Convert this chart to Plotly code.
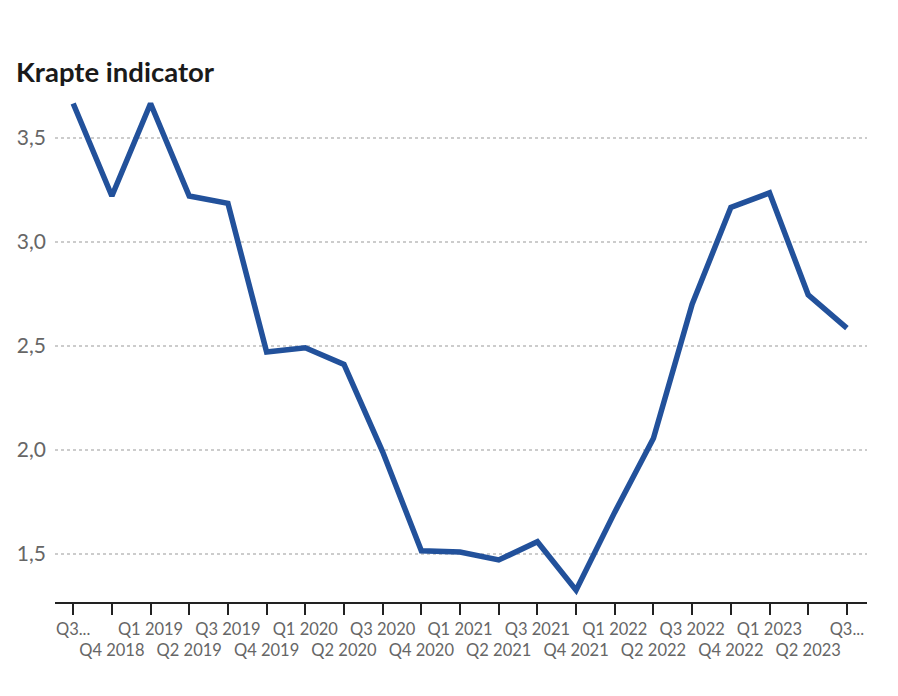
import plotly.graph_objects as go

quarters = ["Q3 2018", "Q4 2018", "Q1 2019", "Q2 2019", "Q3 2019", "Q4 2019",
            "Q1 2020", "Q2 2020", "Q3 2020", "Q4 2020", "Q1 2021", "Q2 2021",
            "Q3 2021", "Q4 2021", "Q1 2022", "Q2 2022", "Q3 2022", "Q4 2022",
            "Q1 2023", "Q2 2023", "Q3 2023"]
values = [3.665, 3.22, 3.665, 3.22, 3.185, 2.47, 2.49, 2.41, 1.99, 1.514,
          1.508, 1.47, 1.558, 1.325, 1.70, 2.055, 2.70, 3.165, 3.235, 2.745, 2.585]
tick_labels = ["Q3...", "Q4 2018", "Q1 2019", "Q2 2019", "Q3 2019", "Q4 2019",
               "Q1 2020", "Q2 2020", "Q3 2020", "Q4 2020", "Q1 2021", "Q2 2021",
               "Q3 2021", "Q4 2021", "Q1 2022", "Q2 2022", "Q3 2022", "Q4 2022",
               "Q1 2023", "Q2 2023", "Q3..."]

idx = list(range(len(quarters)))
ticktext = [t if i % 2 == 0 else "<br>" + t for i, t in enumerate(tick_labels)]

fig = go.Figure()
fig.add_trace(go.Scatter(
    x=idx, y=values, mode="lines",
    line=dict(color="#22519b", width=5.5, shape="linear"),
    customdata=quarters,
    hovertemplate="%{customdata}: %{y:.2f}<extra></extra>",
))

fig.update_layout(
    width=898, height=696,
    margin=dict(l=47, r=39, t=84, b=102, autoexpand=False),
    paper_bgcolor="white", plot_bgcolor="white",
    separators=",.",
    showlegend=False,
    font=dict(family="Lato", color="#666666"),
    title=dict(
        text="<b>Krapte indicator</b>",
        font=dict(family="Lato", size=27.5, color="#1a1a1a"),
        x=8 / 898, xanchor="left", xref="container",
        y=1 - 64 / 696, yanchor="middle", yref="container",
        pad=dict(l=0, r=0, t=0, b=0),
    ),
)

fig.update_xaxes(
    range=[-0.47, 20.52],
    tickmode="array", tickvals=idx, ticktext=ticktext,
    tickangle=0, automargin=False,
    showline=True, linecolor="#222222", linewidth=2,
    ticks="outside", ticklen=11, tickwidth=2, tickcolor="#222222",
    showgrid=False, zeroline=False,
    tickfont=dict(family="Lato", size=16.5, color="#666666"),
)

fig.update_yaxes(
    range=[1.268, 3.72], automargin=False,
    tick0=1.5, dtick=0.5, tickformat=".1f",
    showline=False, ticks="", zeroline=False,
    showgrid=True, gridcolor="#cccccc", gridwidth=1.5, griddash="dot",
    tickfont=dict(family="Lato", size=21, color="#666666"),
    ticklabelstandoff=8,
)

fig.write_html("out.html")
